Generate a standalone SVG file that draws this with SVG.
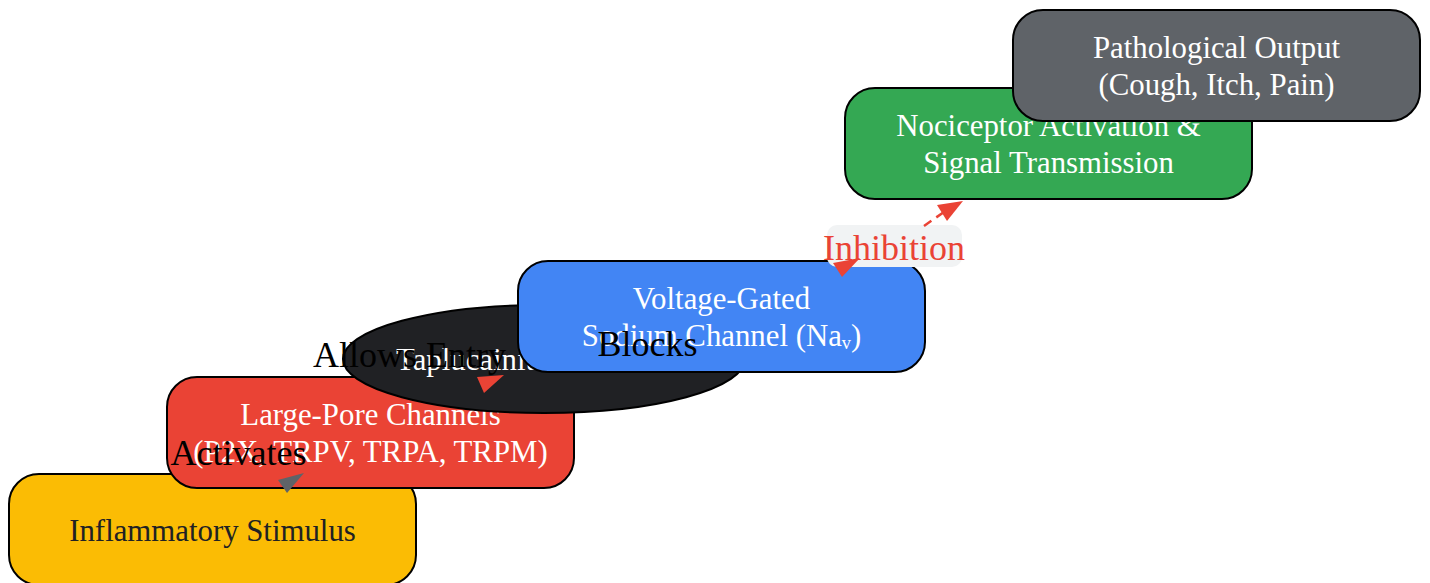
<svg xmlns="http://www.w3.org/2000/svg" width="1430" height="583" viewBox="0 0 1430 583">
<style>
.box{stroke:#000;stroke-width:2}
.nt{font-family:"Liberation Serif","Times New Roman",serif;font-size:30.8px;text-anchor:middle;fill:#fff}
.lbl{font-family:"Liberation Serif","Times New Roman",serif;font-size:36px;text-anchor:middle;fill:#000}
</style>
<rect width="1430" height="583" fill="#fff"/>
<g id="node-stimulus">
<rect class="box" x="9" y="474" width="407" height="111" rx="30" fill="#FBBC04"/>
<text class="nt" x="212.5" y="541" style="fill:#202124">Inflammatory Stimulus</text>
</g>
<g id="node-channels">
<rect class="box" x="167" y="377" width="407" height="111" rx="30" fill="#EA4335"/>
<text class="nt" x="370.5" y="425">Large-Pore Channels</text>
<text class="nt" x="370.5" y="462">(P2X, TRPV, TRPA, TRPM)</text>
</g>
<g id="node-drug">
<ellipse class="box" cx="544" cy="359" rx="201" ry="54" fill="#202124"/>
<text class="nt" x="396" y="370" style="text-anchor:start">Taplucainium</text>
</g>
<g id="node-nav">
<rect class="box" x="518" y="261" width="407" height="111" rx="30" fill="#4285F4"/>
<text class="nt" x="721.5" y="308.5">Voltage-Gated</text>
<text class="nt" x="721.5" y="345.5">Sodium Channel (Naᵥ)</text>
</g>
<g id="node-nociceptor">
<rect class="box" x="845" y="88" width="407" height="111" rx="30" fill="#34A853"/>
<text class="nt" x="1048.5" y="135.5">Nociceptor Activation &amp;</text>
<text class="nt" x="1048.5" y="172.5">Signal Transmission</text>
</g>
<g id="node-output">
<rect class="box" x="1013" y="10" width="407" height="111" rx="30" fill="#5F6368"/>
<text class="nt" x="1216.5" y="57.5">Pathological Output</text>
<text class="nt" x="1216.5" y="94.5">(Cough, Itch, Pain)</text>
</g>
<g id="edge-labels">
<text class="lbl" x="238.5" y="465">Activates</text>
<text class="lbl" x="409.5" y="367">Allows Entry</text>
<text class="lbl" x="647.5" y="356">Blocks</text>
<rect x="827" y="225" width="135" height="42" rx="10" fill="#F1F3F4"/>
<text class="lbl" x="894" y="260" style="fill:#EA4335">Inhibition</text>
</g>
<g id="connectors">
<polygon points="278,480 304,473 287,493" fill="#5F6368"/>
<polygon points="477,377 504,375 484,393" fill="#EA4335"/>
<polygon points="833,263 860,258 842,277" fill="#EA4335"/>
<line x1="924" y1="226" x2="944" y2="212" stroke="#EA4335" stroke-width="2.5" stroke-dasharray="9,6"/>
<polygon points="937,205 963,201 947,221" fill="#EA4335"/>
</g>
</svg>
